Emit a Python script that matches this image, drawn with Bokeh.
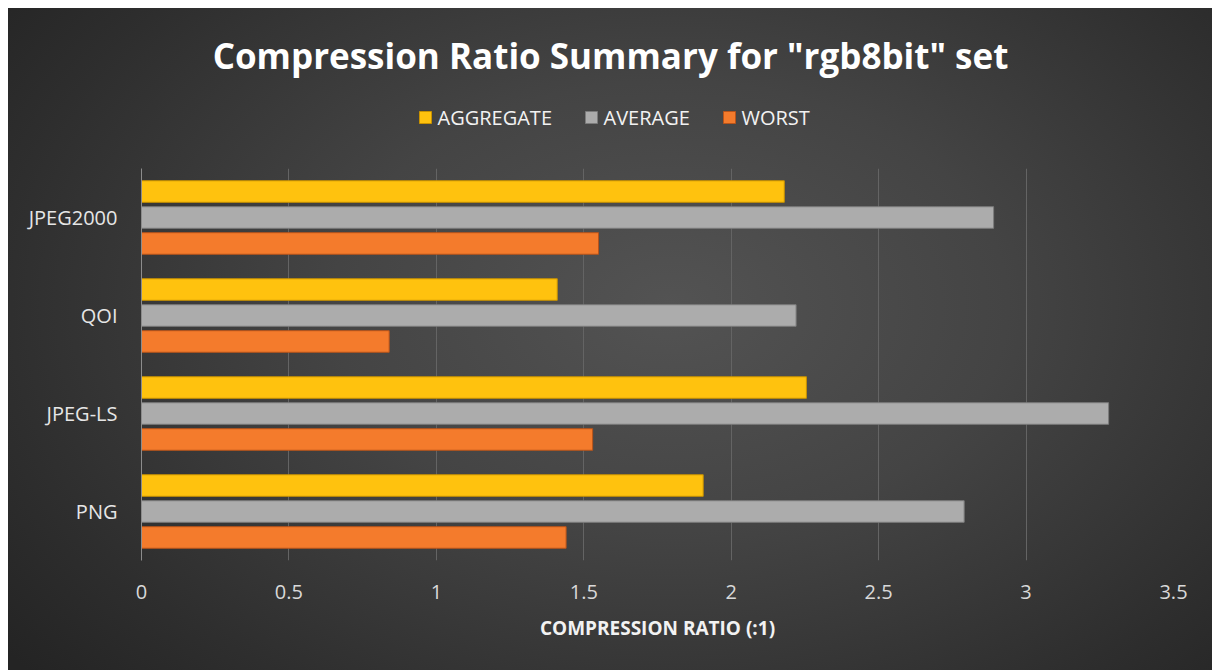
from bokeh.plotting import figure
from bokeh.layouts import column
from bokeh.models import FactorRange, Range1d, FixedTicker, ColumnDataSource
from bokeh.transform import dodge
from bokeh.embed import file_html
from bokeh.resources import INLINE
from bokeh.core.properties import value

codecs = ["PNG", "JPEG-LS", "QOI", "JPEG2000"]
aggregate = [1.905, 2.255, 1.41, 2.18]
average = [2.79, 3.28, 2.22, 2.89]
worst = [1.44, 1.53, 0.84, 1.55]
x_ticks = [0, 0.5, 1, 1.5, 2, 2.5, 3, 3.5]
series_names = ["AGGREGATE", "AVERAGE", "WORST"]
series_fill = ["#ffc20e", "#acacac", "#f47b2c"]
series_line = ["#c99200", "#7c7c7c", "#b9541a"]
title_text = 'Compression Ratio Summary for "rgb8bit" set'
x_title = "COMPRESSION RATIO (:1)"

FONT = "Open Sans"
W = 1204
HEADER_H = 160
MAIN_H = 502
BL, BR = 133, 39          # left / right borders (frame spans BL .. W-BR)

# ---------------- header (title + legend) ----------------
# header x coordinates are figure pixels; its frame is aligned with the main frame
hdr = figure(width=W, height=HEADER_H, x_range=Range1d(BL, W - BR), y_range=Range1d(0, HEADER_H),
             output_backend="svg", toolbar_location=None,
             min_border_left=BL, min_border_right=BR, min_border_top=0, min_border_bottom=0)
hdr.axis.visible = False
hdr.grid.visible = False
hdr.outline_line_color = None
hdr.border_fill_alpha = 0
hdr.background_fill_alpha = 0

hdr.text(x=[602], y=[113], text=[title_text], text_align="center", text_baseline="middle",
         text_font=value(FONT), text_font_size="35px", text_font_style="bold", text_color="#ffffff")

# legend layout positions (screen layout of the header)
leg_swatch_x = [417, 583, 721]
leg_y = 51
leg_src = ColumnDataSource(dict(x=leg_swatch_x, tx=[x + 12 for x in leg_swatch_x], y=[leg_y] * 3,
                                label=series_names, fill=series_fill, line=series_line))
hdr.scatter(x="x", y="y", source=leg_src, marker="square", size=12,
            fill_color="fill", line_color="line", line_width=1)
hdr.text(x="tx", y="y", text="label", source=leg_src, text_align="left", text_baseline="middle",
         text_font=value(FONT), text_font_size="20px", text_color="#f2f2f2")

# ---------------- main chart ----------------
source = ColumnDataSource(dict(codec=codecs, aggregate=aggregate, average=average, worst=worst))

p = figure(width=W, height=MAIN_H, y_range=FactorRange(*codecs), x_range=Range1d(0, 3.5),
           output_backend="svg", toolbar_location=None,
           min_border_left=BL, min_border_right=BR, min_border_top=0, min_border_bottom=110)
p.border_fill_alpha = 0
p.background_fill_alpha = 0
p.outline_line_color = None

bar_h = 0.22
off = 0.265
cols = ["aggregate", "average", "worst"]
offsets = [off, 0.0, -off]
for col, o, fill, line in zip(cols, offsets, series_fill, series_line):
    p.hbar(y=dodge("codec", o, range=p.y_range), left=0, right=col, height=bar_h,
           source=source, fill_color=fill, line_color=line, line_width=1)

# grid
p.ygrid.grid_line_color = None
p.xgrid.ticker = FixedTicker(ticks=x_ticks)
p.xgrid.grid_line_color = "#646464"
p.xgrid.grid_line_width = 1

# x axis
p.xaxis.ticker = FixedTicker(ticks=x_ticks)
p.xaxis.axis_line_color = None
p.xaxis.major_tick_line_color = None
p.xaxis.minor_tick_line_color = None
p.xaxis.major_tick_out = 0
p.xaxis.major_tick_in = 0
p.xaxis.major_label_standoff = 24
p.xaxis.major_label_text_font = FONT
p.xaxis.major_label_text_font_size = "20px"
p.xaxis.major_label_text_color = "#d9d9d9"
p.xaxis.axis_label = x_title
p.xaxis.axis_label_text_font = FONT
p.xaxis.axis_label_text_font_size = "19px"
p.xaxis.axis_label_text_font_style = "bold"
p.xaxis.axis_label_text_color = "#f2f2f2"
p.xaxis.axis_label_standoff = 13

# y axis
p.yaxis.axis_line_color = "#8c8c8c"
p.yaxis.axis_line_width = 1
p.yaxis.major_tick_line_color = None
p.yaxis.minor_tick_line_color = None
p.yaxis.major_tick_out = 0
p.yaxis.major_tick_in = 0
p.yaxis.major_label_standoff = 24
p.yaxis.major_label_text_font = FONT
p.yaxis.major_label_text_font_size = "20px"
p.yaxis.major_label_text_color = "#e6e6e6"

layout = column(hdr, p, spacing=0)
layout.margin = (8, 0, 0, 8)
layout.styles = {"background": "radial-gradient(ellipse 70% 85% at 55% 45%, #535353 0%, #444444 40%, #2e2e2e 80%, #242424 100%)"}

open("out.html", "w").write(file_html(layout, INLINE))
